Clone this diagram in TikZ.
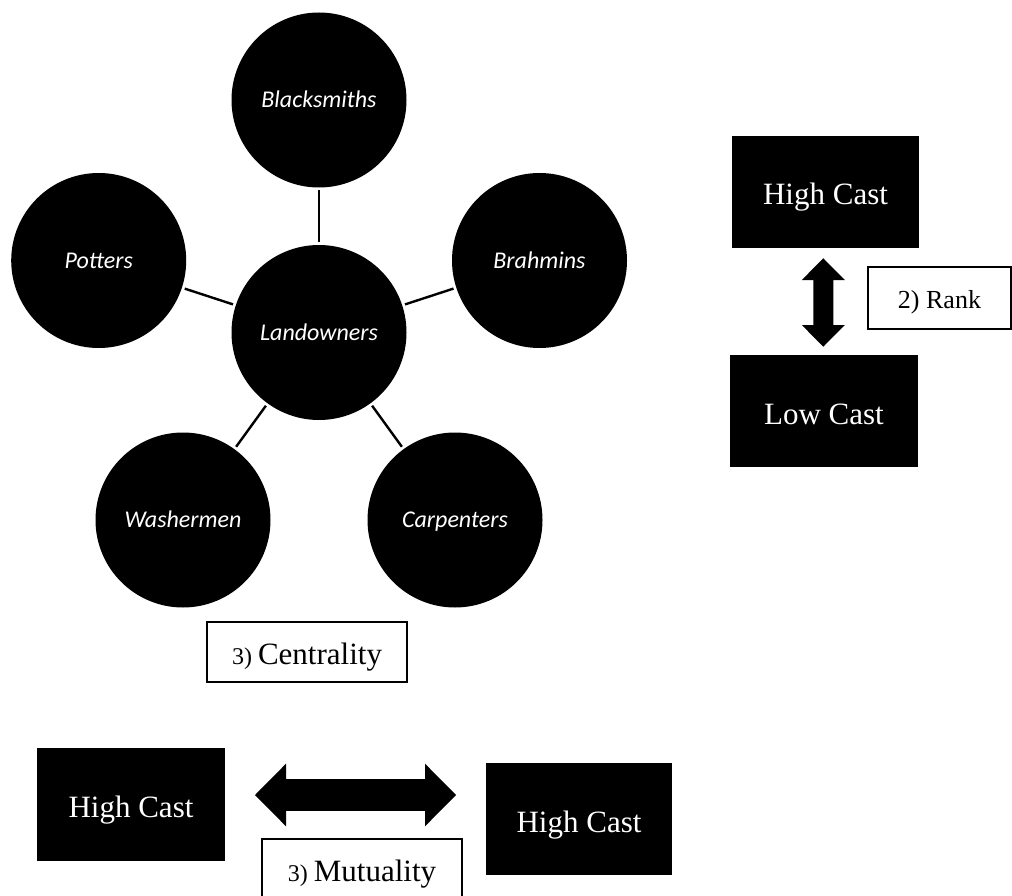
\documentclass[tikz,border=0pt]{standalone}
\usepackage{fontspec}
\setmainfont{Liberation Serif}
\newfontfamily\calib{Carlito}
\begin{document}
\begin{tikzpicture}[x=1pt,y=-1pt,
  caste/.style={circle,fill=black,text=white,minimum size=175pt,inner sep=0pt,outer sep=3pt,
     text height=15pt,text depth=0pt,
     font=\calib\itshape\fontsize{24}{28}\selectfont},
  link/.style={line width=2.4pt},
  blackbox/.style={rectangle,fill=black,text=white,inner sep=0pt,
     text height=26pt,text depth=0pt,
     font=\fontsize{31}{36}\selectfont},
  labelbox/.style={rectangle,draw=black,line width=2pt,fill=white,inner sep=0pt,
     text height=24pt,text depth=0pt},
  blockarrow/.style={fill=black}]
\useasboundingbox (0,0) rectangle (1012,896);
\clip (0,0) rectangle (1012,896);
% centrality star
\node[caste] (land) at (319,332.5) {Landowners};
\node[caste] (black) at (319,100) {Blacksmiths};
\node[caste] (pot) at (98.7,260.5) {Potters};
\node[caste] (brah) at (539.5,260.5) {Brahmins};
\node[caste] (wash) at (183,520) {Washermen};
\node[caste] (carp) at (455,520) {Carpenters};
\draw[link] (black) -- (land);
\draw[link] (pot) -- (land);
\draw[link] (brah) -- (land);
\draw[link] (wash) -- (land);
\draw[link] (carp) -- (land);
\node[labelbox,minimum width=200pt,minimum height=60pt] (cent) at (307,652)
  {\fontsize{24}{28}\selectfont 3)\ \fontsize{31}{36}\selectfont Centrality};
% rank
\node[blackbox,minimum width=187pt,minimum height=112pt] (hc1) at (825.5,192) {High Cast};
\node[blackbox,minimum width=188pt,minimum height=112pt] (lc) at (824,411) {Low Cast};
\fill[blockarrow] (823.3,258.3) -- (844.8,280) -- (833.3,280) -- (833.3,325) -- (844.8,325)
  -- (823.3,346.7) -- (801.8,325) -- (813.3,325) -- (813.3,280) -- (801.8,280) -- cycle;
\node[labelbox,line width=1.6pt,minimum width=143pt,minimum height=62pt,text height=20pt] (rank) at (939.5,298)
  {\fontsize{26}{30}\selectfont 2) Rank};
% mutuality
\node[blackbox,minimum width=188pt,minimum height=113pt] (hc2) at (131,804.5) {High Cast};
\node[blackbox,minimum width=186pt,minimum height=112pt] (hc3) at (579,819) {High Cast};
\fill[blockarrow] (255,795) -- (286,763.7) -- (286,779.2) -- (425,779.2) -- (425,763.7)
  -- (456,795) -- (425,826.3) -- (425,810.8) -- (286,810.8) -- (286,826.3) -- cycle;
\node[labelbox,minimum width=200pt,minimum height=60pt] (mut) at (362,869)
  {\fontsize{24}{28}\selectfont 3)\ \fontsize{31}{36}\selectfont Mutuality};
\end{tikzpicture}
\end{document}
